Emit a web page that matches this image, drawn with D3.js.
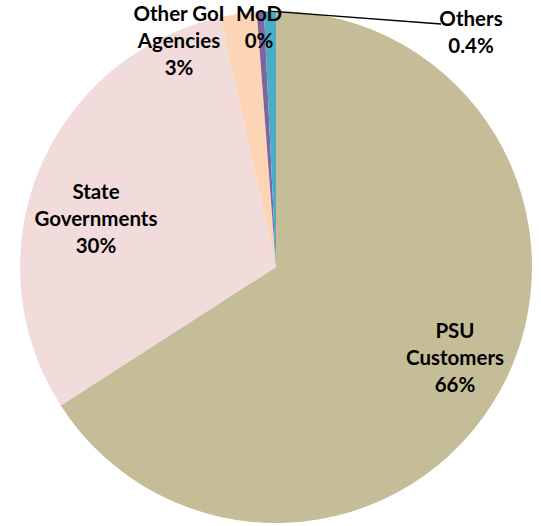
<!DOCTYPE html>
<html>
<head>
<meta charset="utf-8">
<script src="https://cdn.jsdelivr.net/npm/d3@7/dist/d3.min.js"></script>
<style>
  html, body { margin: 0; padding: 0; background: #fff; }
  svg { display: block; }
</style>
</head>
<body>
<svg id="chart" width="541" height="526"></svg>
<script>
// ---- data ----
const categories = ["PSU Customers", "State Governments", "Other GoI Agencies", "MoD", "Others"];
const values = [65.9, 30.6, 2.3, 0.45, 0.75];
const labelLines = [
  ["PSU", "Customers", "66%"],
  ["State", "Governments", "30%"],
  ["Other GoI", "Agencies", "3%"],
  ["MoD", "0%"],
  ["Others", "0.4%"]
];
const colors = ["#C4BD97", "#F2DCDB", "#FBD5B5", "#8064A2", "#4BACC6"];

// ---- layout ----
const W = 541, H = 526;
const cx = 276, cy = 267, R = 256;
// label anchor (x centre, y baseline of first line), in page px
const labelAnchor = [
  [455, 338],
  [96, 199],
  [179, 21],
  [259, 21],
  [471, 26]
];
const lineH = 27;

const svg = d3.select("#chart");
const g = svg.append("g").attr("transform", `translate(${cx},${cy})`);

const pie = d3.pie().sort(null).value(d => d.v)
  .startAngle(0).endAngle(2 * Math.PI);
const data = categories.map((c, i) => ({ c, v: values[i], i }));
const arcs = pie(data);
const arc = d3.arc().innerRadius(0).outerRadius(R);

g.selectAll("path.slice")
  .data(arcs)
  .join("path")
  .attr("class", "slice")
  .attr("d", arc)
  .attr("fill", d => colors[d.data.i]);

// leader line for "Others"
const othersArc = arcs[4];
const mid = (othersArc.startAngle + othersArc.endAngle) / 2;
const px = cx + R * Math.sin(mid), py = cy - R * Math.cos(mid);
svg.append("line")
  .attr("x1", px).attr("y1", py)
  .attr("x2", 441).attr("y2", 24)
  .attr("stroke", "#000").attr("stroke-width", 1.3);

// labels
const lab = svg.append("g")
  .attr("font-family", "Lato, 'Open Sans', sans-serif")
  .attr("font-weight", "bold")
  .attr("font-size", 20.5)
  .attr("fill", "#000")
  .attr("text-anchor", "middle");

labelLines.forEach((lines, i) => {
  const t = lab.append("text")
    .attr("x", labelAnchor[i][0])
    .attr("y", labelAnchor[i][1]);
  lines.forEach((s, k) => {
    t.append("tspan")
      .attr("x", labelAnchor[i][0])
      .attr("dy", k === 0 ? 0 : lineH)
      .text(s);
  });
});
</script>
</body>
</html>
